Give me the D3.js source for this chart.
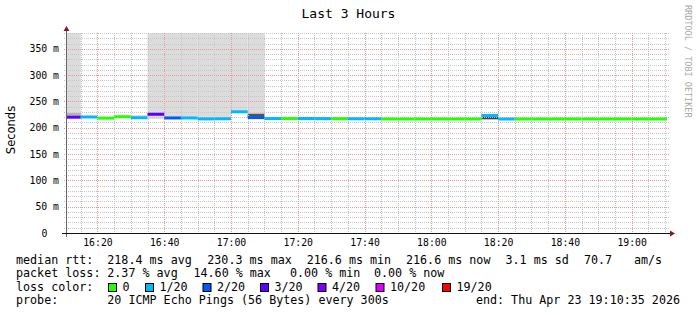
<!DOCTYPE html>
<html>
<head>
<meta charset="utf-8">
<script src="https://d3js.org/d3.v7.min.js"></script>
<style>
    body { margin: 0; background: #ffffff; }
    text { font-family: "DejaVu Sans Mono", monospace; }
</style>
</head>
<body>
<div id="chart"></div>
<script>
// one value per 5 minute slot, 16:10 .. 19:10 (last slot is partial)
var medians = [220.0, 220.4, 218.2, 221.0, 219.0, 225.6, 218.6, 218.6, 216.8, 217.0,
               230.3, 219.3, 217.4, 217.4, 217.2, 217.1, 217.1, 217.0, 217.0, 216.6,
               216.6, 216.6, 216.6, 216.6, 216.6, 223.4, 216.6, 216.6, 216.6, 216.6,
               216.6, 216.6, 216.6, 216.6, 216.6, 216.6, 216.6];
var lostPings = [3, 1, 0, 0, 1, 3, 2, 1, 1, 1,
                 1, 2, 1, 0, 1, 1, 0, 1, 1, 0,
                 0, 0, 0, 0, 0, 1, 1, 0, 0, 0,
                 0, 0, 0, 0, 0, 0, 0];

// smoke: [slot, low, high] of the ping spread (high past the top is clipped)
var smokeWide = [[0, 218.5, 400], [4, 218.5, 224], [5, 216.5, 400], [6, 219, 400],
                 [7, 219, 400], [8, 218, 400], [9, 218, 400], [10, 228, 400], [11, 219, 400]];
// dense part of the smoke: [slot, low, high, pings in band]
var smokeCore = [[0, 222, 228, 3], [11, 221, 226.5, 8], [14, 217.5, 220.5, 9],
                 [15, 217.5, 220, 5], [16, 217.5, 219.5, 4], [25, 216, 222, 9]];

var lossSteps = [0, 1, 2, 3, 4, 10, 19];
var lossLabels = ["0", "1/20", "2/20", "3/20", "4/20", "10/20", "19/20"];
var lossColors = ["#26ff00", "#00b8ff", "#0059ff", "#5e00ff", "#7e00ff", "#dd00ff", "#ff0000"];

var yTicks = [0, 50, 100, 150, 200, 250, 300, 350];
var startTime = new Date(Date.UTC(2026, 3, 23, 16, 10, 35));
var endTime = new Date(Date.UTC(2026, 3, 23, 19, 10, 35));

var legendRtt = ["218.4 ms avg", "230.3 ms max", "216.6 ms min", "216.6 ms now", "3.1 ms sd", "70.7", "am/s"];
var legendLoss = ["2.37 % avg", "14.60 % max", "0.00 % min", "0.00 % now"];
var probeText = "20 ICMP Echo Pings (56 Bytes) every 300s";
var endText = "end: Thu Apr 23 19:10:35 2026";

SmokeChart = function (_parentElement) {
    this.parentElement = _parentElement;
    this.initVis();
};

SmokeChart.prototype.initVis = function () {
    var vis = this;

    vis.margin = {top: 33, right: 30, bottom: 82, left: 66};
    vis.width = 697 - vis.margin.left - vis.margin.right;
    vis.height = 315 - vis.margin.top - vis.margin.bottom;

    vis.svg = d3.select("#" + vis.parentElement)
        .append("svg")
        .attr("width", 697)
        .attr("height", 315);

    vis.svg.append("rect").attr("width", 697).attr("height", 315).attr("fill", "#ffffff");

    vis.g = vis.svg.append("g")
        .attr("transform", "translate(" + vis.margin.left + "," + vis.margin.top + ")");

    vis.x = d3.scaleUtc().domain([startTime, endTime]).range([0, vis.width]);
    vis.y = d3.scaleLinear().domain([0, 380]).range([vis.height, 0]).clamp(true);

    // slots of 5 minutes
    var slotStarts = d3.utcMinute.every(5).range(new Date(Date.UTC(2026, 3, 23, 16, 10)), endTime);
    vis.slots = slotStarts.map(function (s) {
        var e = d3.utcMinute.offset(s, 5);
        return {x0: s < startTime ? startTime : s, x1: e > endTime ? endTime : e};
    });

    vis.lossColor = function (n) {
        var c = lossColors[0];
        lossSteps.forEach(function (t, i) { if (n >= t) c = lossColors[i]; });
        return c;
    };

    vis.drawSmoke();
    vis.drawGrid();
    vis.drawMedians();
    vis.drawAxes();
    vis.drawLegend();
};

SmokeChart.prototype.drawSmoke = function () {
    var vis = this;
    var slotX = function (d) { return vis.x(vis.slots[d[0]].x0); };
    var slotW = function (d) { return vis.x(vis.slots[d[0]].x1) - vis.x(vis.slots[d[0]].x0); };

    vis.g.selectAll(".smoke")
        .data(smokeWide)
        .enter().append("rect")
        .attr("class", "smoke")
        .attr("x", slotX)
        .attr("width", slotW)
        .attr("y", function (d) { return vis.y(d[2]); })
        .attr("height", function (d) { return vis.y(d[1]) - vis.y(d[2]); })
        .attr("fill", "#dcdcdc");

    var shade = d3.scaleLinear().domain([3, 9]).range(["#b4b4b4", "#404040"]);
    vis.g.selectAll(".core")
        .data(smokeCore)
        .enter().append("rect")
        .attr("class", "core")
        .attr("x", slotX)
        .attr("width", slotW)
        .attr("y", function (d) { return vis.y(d[2]); })
        .attr("height", function (d) { return vis.y(d[1]) - vis.y(d[2]); })
        .attr("fill", function (d) { return shade(d[3]); });
};

SmokeChart.prototype.drawGrid = function () {
    var vis = this;
    var grid = vis.g.append("g").attr("class", "grid");

    var minorT = d3.utcMinute.every(5).range(startTime, endTime).filter(function (t) { return t.getUTCMinutes() % 20 !== 0; });
    var majorT = d3.utcMinute.every(20).range(startTime, endTime);
    var minorV = d3.range(10, 381, 10).filter(function (v) { return v % 50 !== 0; });
    var majorV = yTicks.filter(function (v) { return v > 0; });

    grid.selectAll(".hminor").data(minorV).enter().append("line")
        .attr("x1", -2).attr("x2", vis.width + 2)
        .attr("y1", function (d) { return Math.round(vis.y(d)) + 0.5; })
        .attr("y2", function (d) { return Math.round(vis.y(d)) + 0.5; })
        .attr("stroke", "#c6c6c6").attr("stroke-dasharray", "1,1");

    grid.selectAll(".vminor").data(minorT).enter().append("line")
        .attr("y1", 0).attr("y2", vis.height)
        .attr("x1", function (d) { return Math.round(vis.x(d)) + 0.5; })
        .attr("x2", function (d) { return Math.round(vis.x(d)) + 0.5; })
        .attr("stroke", "#c6c6c6").attr("stroke-dasharray", "1,1");

    grid.selectAll(".hmajor").data(majorV).enter().append("line")
        .attr("x1", -2).attr("x2", vis.width + 2)
        .attr("y1", function (d) { return Math.round(vis.y(d)) + 0.5; })
        .attr("y2", function (d) { return Math.round(vis.y(d)) + 0.5; })
        .attr("stroke", "#e49a9a").attr("stroke-dasharray", "1,1");

    grid.selectAll(".vmajor").data(majorT).enter().append("line")
        .attr("y1", 0).attr("y2", vis.height + 2)
        .attr("x1", function (d) { return Math.round(vis.x(d)) + 0.5; })
        .attr("x2", function (d) { return Math.round(vis.x(d)) + 0.5; })
        .attr("stroke", "#e49a9a").attr("stroke-dasharray", "1,1");
};

SmokeChart.prototype.drawMedians = function () {
    var vis = this;
    vis.g.selectAll(".median")
        .data(medians)
        .enter().append("rect")
        .attr("class", "median")
        .attr("x", function (d, i) { return vis.x(vis.slots[i].x0); })
        .attr("width", function (d, i) { return vis.x(vis.slots[i].x1) - vis.x(vis.slots[i].x0); })
        .attr("y", function (d) { return vis.y(d) - 1.5; })
        .attr("height", 3)
        .attr("fill", function (d, i) { return vis.lossColor(lostPings[i]); });
};

SmokeChart.prototype.drawAxes = function () {
    var vis = this;

    var xAxis = vis.g.append("g")
        .attr("class", "x_axis")
        .attr("transform", "translate(0," + vis.height + ")")
        .call(d3.axisBottom(vis.x)
            .ticks(d3.utcMinute.every(20))
            .tickFormat(d3.utcFormat("%H:%M"))
            .tickSize(0).tickPadding(6));
    xAxis.select(".domain").remove();
    xAxis.selectAll("text").style("font-size", "9.8px").attr("fill", "#000");

    var yAxis = vis.g.append("g")
        .attr("class", "y_axis")
        .call(d3.axisLeft(vis.y)
            .tickValues(yTicks)
            .tickFormat(function (d) { return d === 0 ? "0" : d + " m"; })
            .tickSize(0).tickPadding(7));
    yAxis.select(".domain").remove();
    yAxis.selectAll("text").style("font-size", "9.8px").attr("fill", "#000")
        .filter(function (d) { return d === 0; }).attr("x", -18.5);

    // axis lines and arrows
    vis.g.append("line")
        .attr("x1", 0.5).attr("x2", 0.5).attr("y1", -4).attr("y2", vis.height + 4)
        .attr("stroke", "#666");
    vis.g.append("line")
        .attr("x1", -4).attr("x2", vis.width + 4).attr("y1", vis.height + 0.5).attr("y2", vis.height + 0.5)
        .attr("stroke", "#111");
    vis.g.append("path")
        .attr("d", "M-2.5,-2 L3.5,-2 L0.5,-7 Z").attr("fill", "#8b1a1a");
    vis.g.append("path")
        .attr("d", "M" + (vis.width + 3) + "," + (vis.height - 2.5) + " l0,6 l5,-3 Z").attr("fill", "#8b1a1a");

    vis.svg.append("text")
        .text("Last 3 Hours")
        .attr("x", 348.5).attr("y", 18)
        .attr("text-anchor", "middle")
        .style("font-size", "13px");

    vis.svg.append("text")
        .text("Seconds")
        .attr("transform", "translate(15,130) rotate(-90)")
        .attr("text-anchor", "middle")
        .style("font-family", "'DejaVu Sans', sans-serif")
        .style("font-size", "11.5px");

    vis.svg.append("text")
        .text("RRDTOOL / TOBI OETIKER")
        .attr("transform", "translate(685,5) rotate(90)")
        .style("font-size", "8.5px")
        .attr("fill", "#a8a8a8");
};

SmokeChart.prototype.drawLegend = function () {
    var vis = this;
    var lg = vis.svg.append("g").attr("class", "legend").style("font-size", "11.7px");
    var rows = [263.5, 277, 290.5, 303.5];

    var put = function (x, y, t, anchor) {
        lg.append("text").text(t).attr("x", x).attr("y", y)
            .attr("text-anchor", anchor || "start").attr("fill", "#000");
    };

    put(16, rows[0], "median rtt:");
    [107.3, 207.3, 306.7, 406, 505.5, 584, 634].forEach(function (x, i) { put(x, rows[0], legendRtt[i]); });

    put(16, rows[1], "packet loss:");
    [107.3, 193.5, 290, 374].forEach(function (x, i) { put(x, rows[1], legendLoss[i]); });

    put(16, rows[2], "loss color:");
    var boxX = [108.5, 145.5, 203, 260.5, 318, 376, 442.5];
    lossLabels.forEach(function (l, i) {
        lg.append("rect")
            .attr("x", boxX[i]).attr("y", rows[2] - 7)
            .attr("width", 8).attr("height", 8)
            .attr("fill", lossColors[i]).attr("stroke", "#000");
        put(boxX[i] + 14, rows[2], l);
    });

    put(16, rows[3], "probe:");
    put(107.3, rows[3], probeText);
    put(680, rows[3], endText, "end");
};

new SmokeChart("chart");
</script>
</body>
</html>
